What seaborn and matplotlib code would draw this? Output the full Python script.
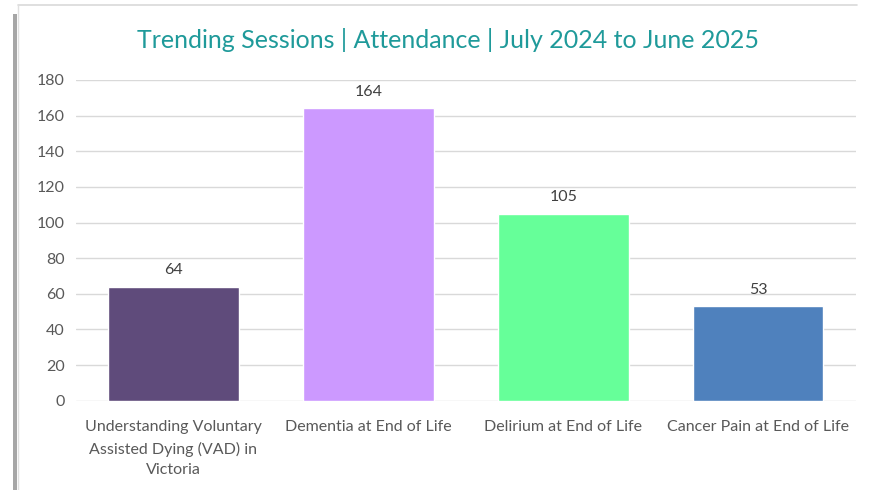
import matplotlib
matplotlib.use("Agg")
import matplotlib.pyplot as plt
import seaborn as sns
import pandas as pd
from matplotlib.patches import Rectangle
from matplotlib.lines import Line2D

sessions = ["Understanding Voluntary\nAssisted Dying (VAD) in\nVictoria",
            "Dementia at End of Life",
            "Delirium at End of Life",
            "Cancer Pain at End of Life"]
attendance = [64, 164, 105, 53]
bar_colors = ["#5f4b7b", "#cc99ff", "#66ff99", "#4f81bd"]

df = pd.DataFrame({"session": sessions, "attendance": attendance})

sns.set_theme(style="white")
plt.rcParams["font.family"] = ["Lato", "DejaVu Sans"]

fig = plt.figure(figsize=(8.74, 4.90), dpi=100)
ax = fig.add_axes([0.087, 0.182, 0.892, 0.655])

sns.barplot(data=df, x="session", y="attendance", hue="session",
            palette=bar_colors, width=0.67, legend=False, ax=ax, saturation=1)

ax.set_ylim(0, 180)
ax.set_yticks(range(0, 181, 20))
ax.yaxis.grid(True, color="#d9d9d9", linewidth=1)
ax.set_axisbelow(True)
for s in ax.spines.values():
    s.set_visible(False)
ax.set_xlabel("")
ax.set_ylabel("")
ax.tick_params(axis="both", length=0, labelsize=11.5, colors="#595959")
ax.tick_params(axis="y", pad=8)
ax.tick_params(axis="x", pad=14)
for lbl in ax.get_xticklabels():
    lbl.set_linespacing(1.6)
ax.set_xlim(-0.5, 3.5)

for c in ax.containers:
    ax.bar_label(c, fmt="%d", padding=7, fontsize=11.5, color="#404040")

fig.text(0.513, 0.918, "Trending Sessions | Attendance | July 2024 to June 2025",
         ha="center", va="center", fontsize=18, color="#1f9a9a")

# chart frame + left shadow
fig.lines.append(Line2D([18 / 874, 857 / 874], [1 - 5 / 490, 1 - 5 / 490],
                        transform=fig.transFigure, color="#d9d9d9", linewidth=1.2))
fig.lines.append(Line2D([18 / 874, 18 / 874], [0, 1 - 5 / 490],
                        transform=fig.transFigure, color="#e0e0e0", linewidth=1.0))
fig.patches.append(Rectangle((13 / 874, 0), 4 / 874, 1 - 14 / 490, transform=fig.transFigure,
                             facecolor="#a6a6a6", edgecolor="none"))

fig.savefig("out.png", dpi=100)
